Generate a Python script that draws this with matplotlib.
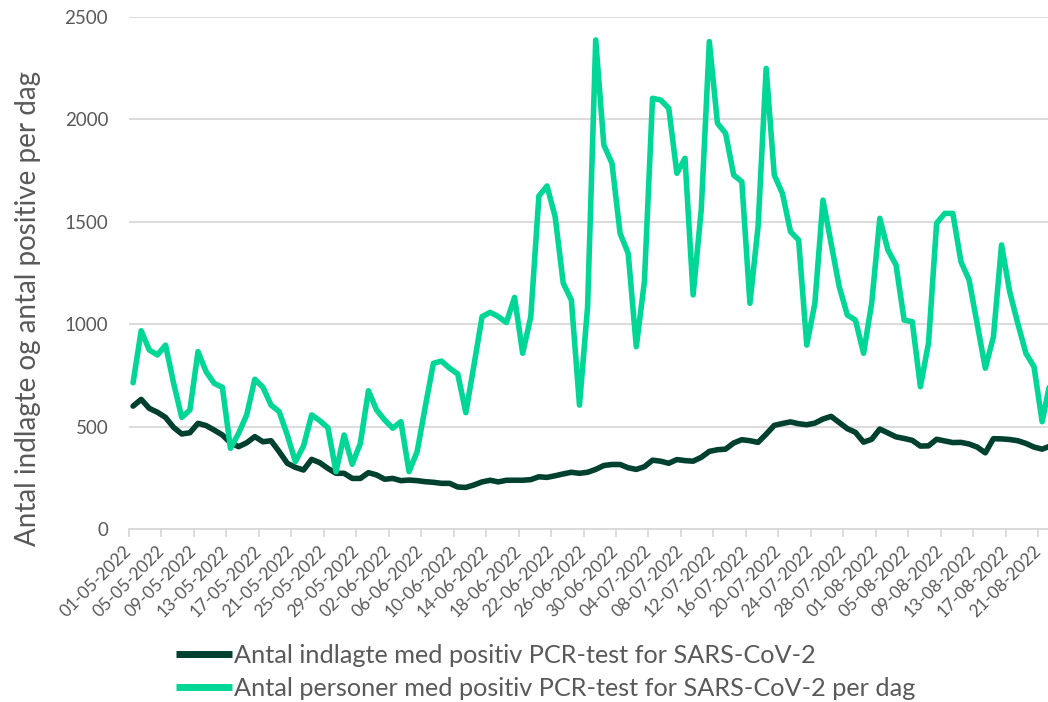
import matplotlib.pyplot as plt
import numpy as np
import pandas as pd

plt.rcParams['font.family'] = ['Lato', 'DejaVu Sans']

#---------------- data
dates = pd.date_range("2022-05-01", "2022-08-22", freq="D")

indlagte = [600, 633, 589, 570, 545, 496, 464, 470, 516, 505,
            483, 459, 421, 402, 421, 451, 426, 431, 378, 321,
            301, 288, 340, 324, 296, 272, 272, 247, 247, 275,
            264, 243, 247, 236, 239, 236, 231, 228, 223, 223,
            205, 203, 215, 230, 238, 230, 238, 238, 238, 241,
            255, 252, 260, 269, 277, 272, 277, 291, 310, 315,
            315, 299, 291, 304, 336, 331, 321, 339, 334, 331,
            350, 379, 387, 390, 420, 436, 431, 423, 463, 506,
            515, 523, 514, 509, 517, 537, 550, 520, 490, 472,
            424, 438, 488, 469, 450, 442, 433, 405, 406, 438,
            430, 422, 423, 415, 400, 372, 441, 440, 437, 431,
            418, 400, 390, 405]

positive = [714, 968, 874, 850, 898, 711, 545, 581, 866, 768,
            711, 692, 394, 467, 557, 731, 692, 605, 573, 459,
            329, 405, 557, 529, 495, 280, 459, 316, 418, 675,
            581, 532, 492, 524, 280, 378, 597, 809, 820, 785,
            757, 568, 800, 1037, 1058, 1037, 1008, 1131, 858, 1037,
            1626, 1675, 1525, 1200, 1118, 605, 1085, 2388, 1875, 1786,
            1444, 1346, 890, 1208, 2103, 2095, 2054, 1737, 1810, 1143,
            1558, 2380, 1981, 1932, 1728, 1696, 1102, 1476, 2249, 1728,
            1639, 1452, 1411, 898, 1102, 1606, 1395, 1183, 1045, 1020,
            858, 1102, 1517, 1362, 1289, 1020, 1012, 695, 907, 1493,
            1541, 1541, 1305, 1216, 1001, 785, 939, 1387, 1159, 1004,
            858, 792, 524, 720]

label_indlagte = "Antal indlagte med positiv PCR-test for SARS-CoV-2"
label_positive = "Antal personer med positiv PCR-test for SARS-CoV-2 per dag"
ylabel = "Antal indlagte og antal positive per dag"

#---------------- figure
W, H = 1048, 702
fig = plt.figure(figsize=(W / 100, H / 100), dpi=100)
# plot area in pixels (the reference is cropped on the right)
left, right, top, bottom = 129, 1054.3, 17, 529
ax = fig.add_axes([left / W, 1 - bottom / H, (right - left) / W, (bottom - top) / H])

n = len(dates)
x = np.arange(n) + 0.5          # points sit between the tick marks
dark = "#00402F"
light = "#00D796"
grey_txt = "#595959"
grid_c = "#D9D9D9"

ax.plot(x, indlagte, color=dark, lw=4, solid_capstyle='round', solid_joinstyle='round',
        label=label_indlagte, clip_on=False, zorder=3)
ax.plot(x, positive, color=light, lw=4, solid_capstyle='round', solid_joinstyle='round',
        label=label_positive, clip_on=False, zorder=3)

ax.set_xlim(0, n)
ax.set_ylim(0, 2500)
ax.set_yticks(np.arange(0, 2501, 500))
ax.yaxis.grid(True, color=grid_c, lw=1.3)
ax.set_axisbelow(True)

ticks = np.arange(0, n, 4)
ax.set_xticks(ticks)
ax.set_xticklabels([dates[i].strftime("%d-%m-%Y") for i in ticks],
                   rotation=45, ha='right', va='center', rotation_mode='anchor')

for s in ['top', 'right', 'left']:
    ax.spines[s].set_visible(False)
ax.spines['bottom'].set_color(grid_c)
ax.spines['bottom'].set_linewidth(1.3)

ax.tick_params(axis='x', length=6, color=grid_c, width=1.3, labelsize=12.5,
               labelcolor=grey_txt, pad=8)
ax.tick_params(axis='y', length=0, labelsize=13.5, labelcolor=grey_txt, pad=15)

fig.text(28 / W, 1 - 309 / H, ylabel, rotation=90, ha='center', va='center',
         fontsize=20, color=grey_txt)

leg = fig.legend(loc='upper left', bbox_to_anchor=(176 / W, 1 - 644 / H), frameon=False,
                 handlelength=2.2, handletextpad=0.1, labelspacing=0.4, fontsize=18.2,
                 labelcolor=grey_txt, borderpad=0, borderaxespad=0)
for h in leg.legend_handles:
    h.set_linewidth(5)
    h.set_solid_capstyle('butt')

fig.savefig("out.png", dpi=100)
